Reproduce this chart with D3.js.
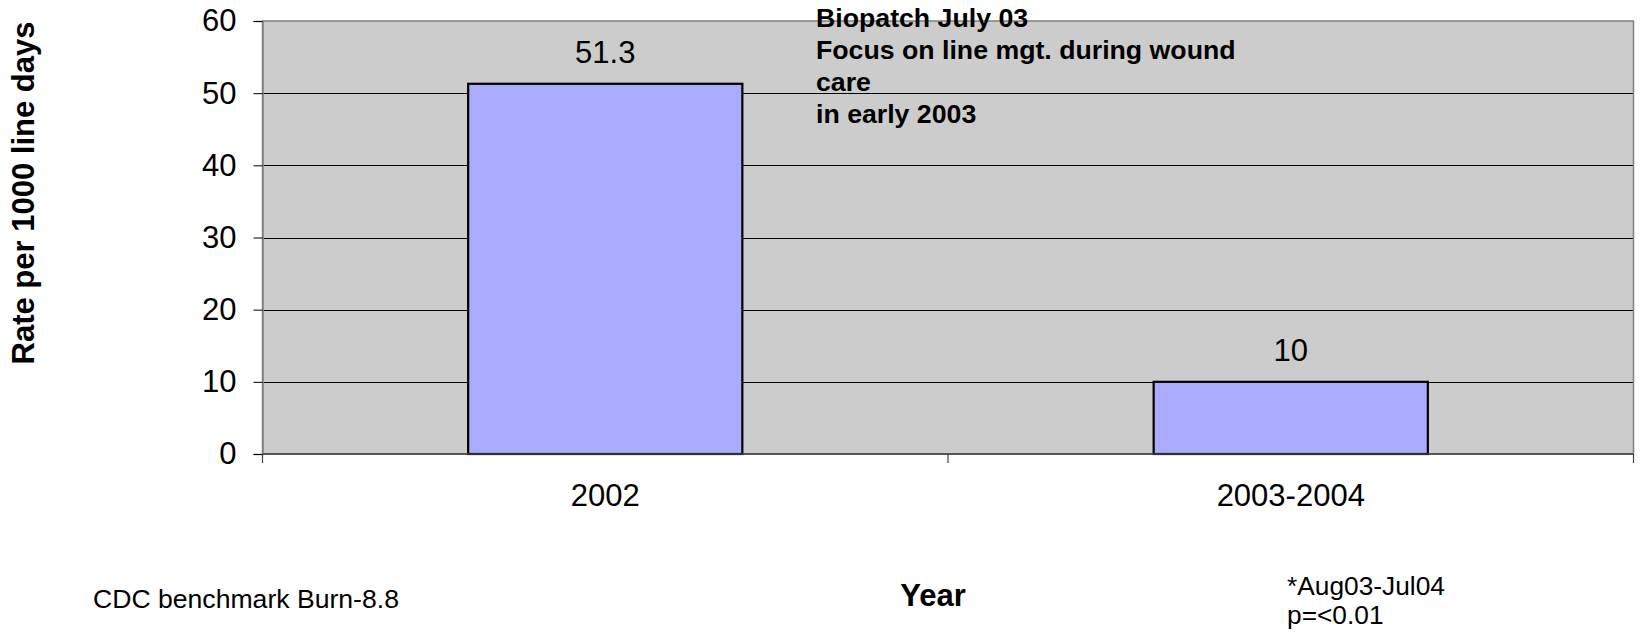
<!DOCTYPE html>
<html>
<head>
<meta charset="utf-8">
<script src="https://cdn.jsdelivr.net/npm/d3@7"></script>
<style>
  html, body { margin: 0; padding: 0; background: #ffffff; }
  svg { display: block; font-family: "Liberation Sans", Arial, sans-serif; }
</style>
</head>
<body>
<svg id="chart" width="1640" height="632"></svg>
<script>
// Catheter-related infection rate by period
const categories = ["2002", "2003-2004"];
const rates = [51.3, 10];
const valueLabels = ["51.3", "10"];
const yTicks = [0, 10, 20, 30, 40, 50, 60];
const noteLines = ["Biopatch July 03", "Focus on line mgt. during wound", "care", "in early 2003"];
const footLeft = "CDC benchmark Burn-8.8";
const footRight = ["*Aug03-Jul04", "p=<0.01"];

const svg = d3.select("#chart");
const plot = { left: 262.5, right: 1633.5, top: 21, bottom: 454 };

const x = d3.scaleBand()
  .domain(categories)
  .range([plot.left, plot.right])
  .paddingInner(0.6)
  .paddingOuter(0.3);

const y = d3.scaleLinear().domain([0, 60]).range([plot.bottom, plot.top]);

// plot area background
svg.append("rect")
  .attr("x", plot.left).attr("y", plot.top)
  .attr("width", plot.right - plot.left).attr("height", plot.bottom - plot.top)
  .attr("fill", "#cccccc");

// horizontal gridlines
svg.append("g").selectAll("line")
  .data(yTicks.filter(d => d > 0 && d < 60))
  .join("line")
  .attr("x1", plot.left).attr("x2", plot.right)
  .attr("y1", d => Math.round(y(d)) + 0.5).attr("y2", d => Math.round(y(d)) + 0.5)
  .attr("stroke", "#000").attr("stroke-width", 1);

// plot border
svg.append("rect")
  .attr("x", plot.left).attr("y", plot.top)
  .attr("width", plot.right - plot.left).attr("height", plot.bottom - plot.top)
  .attr("fill", "none").attr("stroke", "#808080").attr("stroke-width", 1.5);

// bars
svg.append("g").selectAll("rect")
  .data(rates)
  .join("rect")
  .attr("x", (d, i) => x(categories[i]))
  .attr("y", d => y(d))
  .attr("width", x.bandwidth())
  .attr("height", d => y(0) - y(d))
  .attr("fill", "#aaaaff")
  .attr("stroke", "#000").attr("stroke-width", 2.2);

// y axis
const yAxis = svg.append("g")
  .attr("transform", `translate(${plot.left},0)`)
  .call(d3.axisLeft(y).tickValues(yTicks).tickSize(9).tickPadding(17).tickFormat(d3.format("d")));
yAxis.select(".domain").attr("stroke", "#808080").attr("stroke-width", 1.5);
yAxis.selectAll(".tick line").attr("stroke", "#000");
yAxis.selectAll(".tick text")
  .attr("font-family", "Liberation Sans, Arial, sans-serif")
  .attr("font-size", 31).attr("fill", "#000");

// x axis: ticks on category boundaries
const xAxisG = svg.append("g").attr("transform", `translate(0,${plot.bottom})`);
xAxisG.append("line")
  .attr("x1", plot.left).attr("x2", plot.right)
  .attr("stroke", "#404040").attr("stroke-width", 1.5);
const boundaries = [plot.left, (x(categories[0]) + x.bandwidth() + x(categories[1])) / 2, plot.right];
xAxisG.selectAll("line.tk")
  .data(boundaries)
  .join("line").attr("class", "tk")
  .attr("x1", d => d).attr("x2", d => d)
  .attr("y1", 0).attr("y2", 9)
  .attr("stroke", "#404040").attr("stroke-width", 1.2);
xAxisG.selectAll("text")
  .data(categories)
  .join("text")
  .attr("x", d => x(d) + x.bandwidth() / 2)
  .attr("y", 52)
  .attr("text-anchor", "middle")
  .attr("font-size", 31)
  .text(d => d);

// value labels
svg.append("g").selectAll("text")
  .data(rates)
  .join("text")
  .attr("x", (d, i) => x(categories[i]) + x.bandwidth() / 2)
  .attr("y", d => y(d) - 21)
  .attr("text-anchor", "middle")
  .attr("font-size", 31)
  .text((d, i) => valueLabels[i]);

// annotation
svg.append("text")
  .attr("font-size", 26.7).attr("font-weight", "bold")
  .selectAll("tspan")
  .data(noteLines)
  .join("tspan")
  .attr("x", 816)
  .attr("y", (d, i) => 26.7 + i * 32.2)
  .text(d => d);

// y-axis title
svg.append("text")
  .attr("transform", "translate(34,193) rotate(-90)")
  .attr("text-anchor", "middle")
  .attr("font-size", 31).attr("font-weight", "bold")
  .text("Rate per 1000 line days");

// x-axis title
svg.append("text")
  .attr("x", 933).attr("y", 606)
  .attr("text-anchor", "middle")
  .attr("font-size", 31).attr("font-weight", "bold")
  .text("Year");

// footnotes
svg.append("text")
  .attr("x", 93).attr("y", 608)
  .attr("font-size", 26.6)
  .text(footLeft);

svg.append("text")
  .attr("font-size", 26.3)
  .selectAll("tspan")
  .data(footRight)
  .join("tspan")
  .attr("x", 1287)
  .attr("y", (d, i) => 595 + i * 29)
  .text(d => d);
</script>
</body>
</html>
